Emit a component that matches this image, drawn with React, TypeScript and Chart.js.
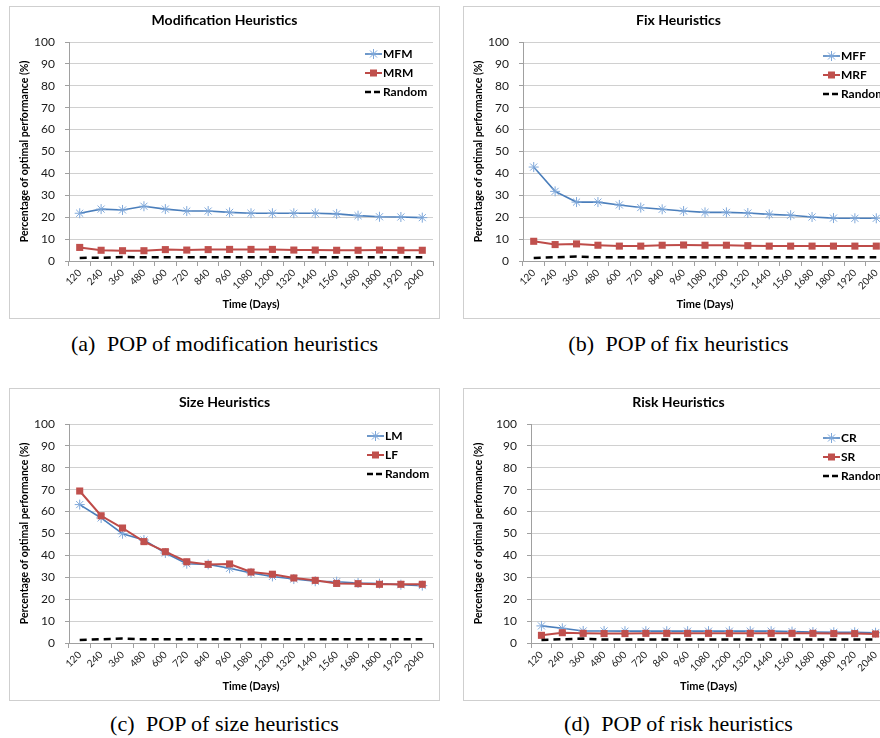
import React, { useEffect, useRef } from 'react';
import { Chart, registerables } from 'chart.js';

Chart.register(...registerables);

const days = ['120', '240', '360', '480', '600', '720', '840', '960', '1080', '1200', '1320', '1440', '1560', '1680', '1800', '1920', '2040'];

const mfm = [21.8, 23.7, 23.3, 25.0, 23.7, 22.8, 22.8, 22.2, 21.8, 21.8, 21.8, 21.8, 21.5, 20.7, 20.2, 20.1, 19.8];
const mrm = [6.2, 4.9, 4.7, 4.7, 5.2, 5.0, 5.2, 5.3, 5.3, 5.3, 5.0, 5.0, 4.9, 4.9, 5.0, 4.9, 4.9];
const randomMod = [1.4, 1.5, 1.8, 1.7, 1.7, 1.7, 1.7, 1.7, 1.7, 1.7, 1.7, 1.7, 1.7, 1.7, 1.7, 1.7, 1.7];

const mff = [42.9, 31.8, 26.9, 26.9, 25.6, 24.4, 23.6, 22.8, 22.2, 22.2, 21.9, 21.3, 20.9, 20.1, 19.6, 19.5, 19.5];
const mrf = [9.0, 7.5, 7.8, 7.2, 6.8, 6.8, 7.2, 7.3, 7.2, 7.2, 7.0, 6.8, 6.8, 6.8, 6.8, 6.8, 6.8];
const randomFix = [1.4, 1.7, 2.0, 1.7, 1.7, 1.7, 1.7, 1.7, 1.7, 1.7, 1.7, 1.7, 1.7, 1.7, 1.7, 1.7, 1.7];

const lm = [63.2, 57.1, 49.9, 47.0, 41.1, 36.2, 35.9, 34.1, 32.0, 30.4, 29.2, 28.2, 28.0, 27.4, 27.1, 26.6, 26.2];
const lf = [69.4, 58.1, 52.5, 46.3, 41.7, 37.1, 35.9, 36.1, 32.4, 31.4, 29.7, 28.6, 27.2, 27.1, 26.8, 26.8, 26.8];
const randomSize = [1.4, 1.7, 2.0, 1.7, 1.7, 1.7, 1.7, 1.7, 1.7, 1.7, 1.7, 1.7, 1.7, 1.7, 1.7, 1.7, 1.7];

const cr = [7.8, 6.7, 5.5, 5.5, 5.4, 5.4, 5.4, 5.4, 5.4, 5.4, 5.4, 5.4, 5.2, 5.0, 4.9, 4.9, 4.7];
const sr = [3.5, 4.7, 4.4, 4.3, 4.3, 4.4, 4.4, 4.4, 4.4, 4.4, 4.4, 4.4, 4.4, 4.4, 4.3, 4.3, 4.1];
const randomRisk = [1.4, 1.7, 2.0, 1.6, 1.6, 1.6, 1.6, 1.6, 1.6, 1.6, 1.6, 1.6, 1.6, 1.6, 1.6, 1.6, 1.6];

const FONT = 'Lato, "Open Sans", sans-serif';
const BLUE_LINE = '#4a7ebb';
const BLUE_MARK = '#7fa8da';
const RED_LINE = '#be4b48';
const RED_MARK = '#c0504d';
const GRID = '#d0d0d0';
const AXIS = '#a0a0a0';
const TICK = '#1a1a1a';

const INNER_W = 429;
const INNER_H = 311;

type PanelDef = {
  title: string;
  names: [string, string];
  a: number[];
  b: number[];
  rnd: number[];
  box: { left: number; top: number };
  plot: { left: number; right: number; top: number; bottom: number };
  legendX: number; // page x of legend symbol start
  legendDY: number; // offset of first legend row from plot top
  caption: string;
  tag: string;
};

const panels: PanelDef[] = [
  {
    title: 'Modification Heuristics', names: ['MFM', 'MRM'], a: mfm, b: mrm, rnd: randomMod,
    box: { left: 9, top: 6 }, plot: { left: 69, right: 433, top: 42, bottom: 261 },
    legendX: 365, legendDY: 12, tag: '(a)', caption: 'POP of modification heuristics',
  },
  {
    title: 'Fix Heuristics', names: ['MFF', 'MRF'], a: mff, b: mrf, rnd: randomFix,
    box: { left: 463, top: 6 }, plot: { left: 523, right: 887, top: 42, bottom: 261 },
    legendX: 823, legendDY: 14, tag: '(b)', caption: 'POP of fix heuristics',
  },
  {
    title: 'Size Heuristics', names: ['LM', 'LF'], a: lm, b: lf, rnd: randomSize,
    box: { left: 9, top: 388 }, plot: { left: 69, right: 433, top: 424, bottom: 643 },
    legendX: 367, legendDY: 12, tag: '(c)', caption: 'POP of size heuristics',
  },
  {
    title: 'Risk Heuristics', names: ['CR', 'SR'], a: cr, b: sr, rnd: randomRisk,
    box: { left: 463, top: 388 }, plot: { left: 531, right: 886, top: 424, bottom: 643 },
    legendX: 823, legendDY: 14, tag: '(d)', caption: 'POP of risk heuristics',
  },
];

const decorPlugin = {
  id: 'decor',
  afterDatasetsDraw(chart: any, _args: any, opts: any) {
    const { ctx, chartArea } = chart;
    ctx.save();
    ctx.font = `bold 14px ${FONT}`;
    ctx.fillStyle = '#000';
    ctx.textAlign = 'center';
    ctx.textBaseline = 'middle';
    ctx.fillText(opts.title, chart.width / 2, opts.titleY);

    ctx.font = `bold 12px ${FONT}`;
    ctx.textAlign = 'left';
    chart.data.datasets.forEach((ds: any, i: number) => {
      const y = chartArea.top + opts.legendDY + i * 19;
      const x0 = opts.legendX;
      const x1 = x0 + 17;
      ctx.save();
      ctx.strokeStyle = ds.borderColor;
      ctx.lineWidth = ds.borderWidth;
      if (ds.borderDash && ds.borderDash.length) ctx.setLineDash([6, 3]);
      ctx.beginPath();
      ctx.moveTo(x0, y);
      ctx.lineTo(x1, y);
      ctx.stroke();
      ctx.setLineDash([]);
      const cx = (x0 + x1) / 2;
      if (ds.pointStyle === 'star') {
        ctx.strokeStyle = ds.pointBorderColor;
        ctx.lineWidth = 1;
        const r = 5;
        ctx.beginPath();
        for (let k = 0; k < 4; k++) {
          const ang = (k * Math.PI) / 4;
          ctx.moveTo(cx - r * Math.cos(ang), y - r * Math.sin(ang));
          ctx.lineTo(cx + r * Math.cos(ang), y + r * Math.sin(ang));
        }
        ctx.stroke();
      } else if (ds.pointStyle === 'rect') {
        ctx.fillStyle = ds.pointBackgroundColor;
        ctx.fillRect(cx - 3.5, y - 3.5, 7, 7);
      }
      ctx.restore();
      ctx.fillStyle = '#000';
      ctx.fillText(ds.label, x1 + 1, y + 0.5);
    });
    ctx.restore();
  },
};

function Panel({ def }: { def: PanelDef }) {
  const ref = useRef<HTMLCanvasElement | null>(null);
  useEffect(() => {
    if (!ref.current) return;
    const ox = def.box.left + 1;
    const oy = def.box.top + 1;
    const padTop = def.plot.top - oy;
    const yWidth = def.plot.left - ox;
    const padRight = INNER_W - (def.plot.right - ox);
    const xHeight = INNER_H - (def.plot.bottom - oy);
    const chart = new Chart(ref.current, {
      type: 'line',
      data: {
        labels: days,
        datasets: [
          {
            label: def.names[0], data: def.a, borderColor: BLUE_LINE, borderWidth: 1.6,
            pointStyle: 'star', pointRadius: 5, pointBorderColor: BLUE_MARK, pointBackgroundColor: BLUE_MARK,
            pointBorderWidth: 1, tension: 0, order: 2,
          },
          {
            label: def.names[1], data: def.b, borderColor: RED_LINE, borderWidth: 2,
            pointStyle: 'rect', pointRadius: 5, pointBorderColor: RED_MARK, pointBackgroundColor: RED_MARK,
            pointBorderWidth: 0, tension: 0, order: 1,
          },
          {
            label: 'Random', data: def.rnd, borderColor: '#000', borderWidth: 2.5, borderDash: [7, 5],
            pointRadius: 0, tension: 0, order: 0,
          },
        ],
      },
      options: {
        responsive: false,
        animation: false,
        devicePixelRatio: 1,
        events: [],
        layout: { padding: { left: 0, right: padRight, top: padTop, bottom: 0 } },
        plugins: {
          legend: { display: false },
          title: { display: false },
          tooltip: { enabled: false },
          decor: {
            title: def.title,
            titleY: 13,
            legendX: def.legendX - ox,
            legendDY: def.legendDY,
          },
        } as any,
        scales: {
          x: {
            type: 'category',
            offset: true,
            grid: { offset: true, drawOnChartArea: false, tickLength: 5, color: AXIS, tickColor: AXIS },
            border: { color: AXIS, width: 1 },
            ticks: {
              autoSkip: false, minRotation: 45, maxRotation: 45, padding: 1,
              font: { family: FONT, size: 10 }, color: TICK,
            },
            title: {
              display: true, text: 'Time (Days)', color: '#000',
              font: { family: FONT, size: 11, weight: 'bold' }, padding: { top: 0, bottom: 7 },
            },
            afterFit: (s: any) => { s.height = xHeight; },
          },
          y: {
            min: 0, max: 100,
            ticks: { stepSize: 10, padding: 10, font: { family: FONT, size: 12 }, color: TICK },
            grid: { color: GRID, tickLength: 4, tickColor: AXIS },
            border: { color: AXIS, width: 1 },
            title: {
              display: true, text: 'Percentage of optimal performance (%)', color: '#000',
              font: { family: FONT, size: 10.5, weight: 'bold' }, padding: { top: 8.5, bottom: 0 },
            },
            afterFit: (s: any) => { s.width = yWidth; },
          },
        },
      } as any,
      plugins: [decorPlugin],
    });
    return () => chart.destroy();
  }, [def]);

  return (
    <div
      style={{
        position: 'absolute', left: def.box.left, top: def.box.top,
        width: INNER_W + 2, height: INNER_H + 2, boxSizing: 'border-box',
        border: '1px solid #cfcfcf', background: '#fff',
      }}
    >
      <canvas ref={ref} width={INNER_W} height={INNER_H} style={{ display: 'block', width: INNER_W, height: INNER_H }} />
    </div>
  );
}

function Caption({ def }: { def: PanelDef }) {
  const cx = def.box.left + (INNER_W + 2) / 2;
  const top = def.box.top < 100 ? 333 : 713;
  return (
    <div
      style={{
        position: 'absolute', left: cx - 250, width: 500, top, textAlign: 'center',
        fontFamily: '"Liberation Serif", "Times New Roman", serif', fontSize: 22, lineHeight: '22px',
        color: '#000', whiteSpace: 'nowrap',
      }}
    >
      <span style={{ marginRight: 6 }}>{def.tag}</span> {def.caption}
    </div>
  );
}

export default function App() {
  return (
    <div
      style={{
        position: 'fixed', left: 0, top: 0, width: 880, height: 738,
        overflow: 'hidden', background: '#fff',
      }}
    >
      {panels.map((p) => (
        <Panel key={p.title} def={p} />
      ))}
      {panels.map((p) => (
        <Caption key={p.tag} def={p} />
      ))}
    </div>
  );
}
